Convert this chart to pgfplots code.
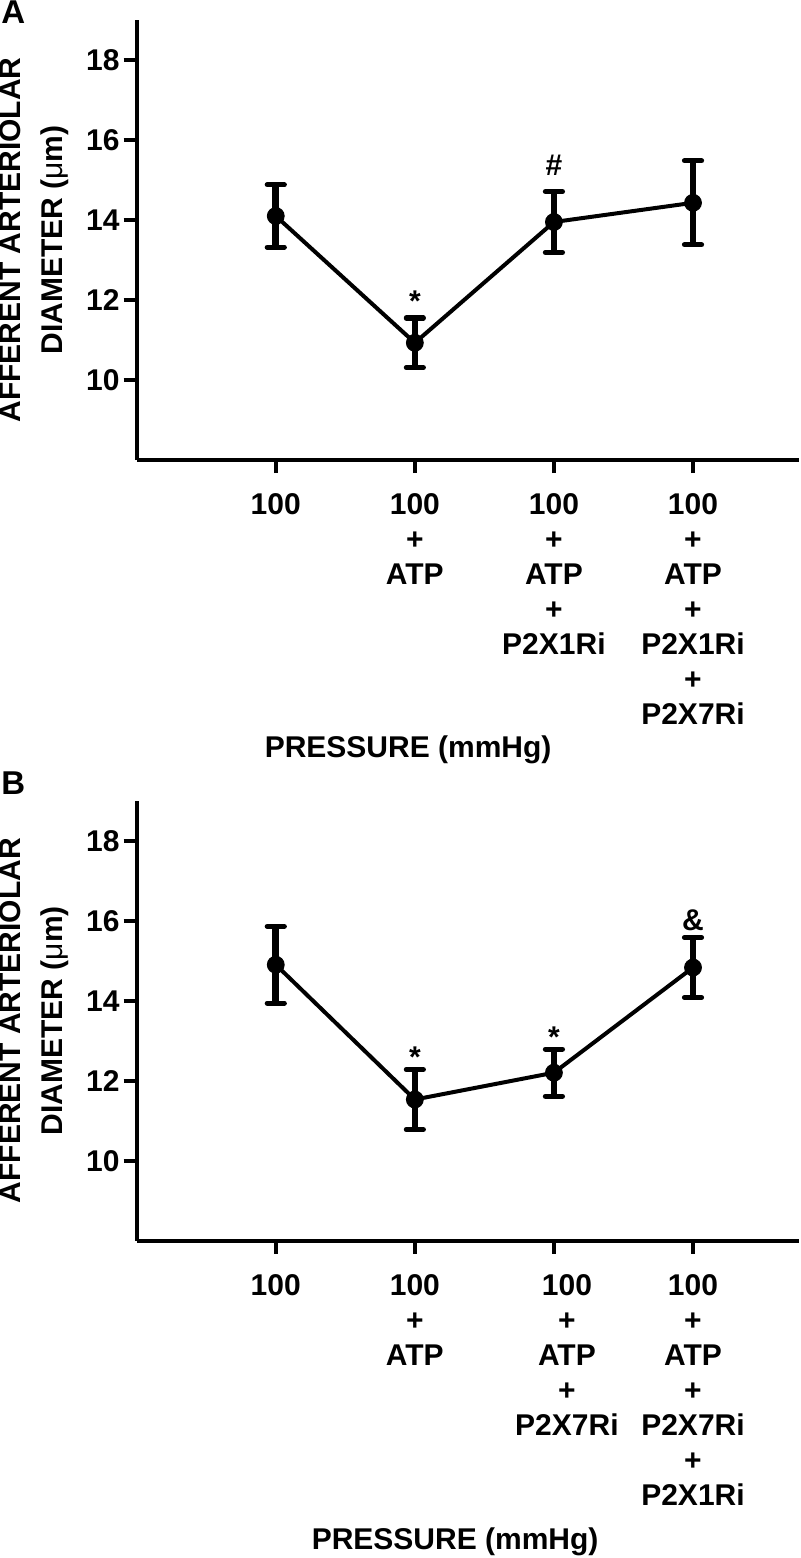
\documentclass[border=0pt]{standalone}
\usepackage{fontspec}
\setmainfont{Liberation Sans}
\usepackage{pgfplots}
\pgfplotsset{compat=1.18}
\usepackage{pgfplotstable}

\pgfplotstableread{
x y e
1 14.10 0.78
2 10.93 0.62
3 13.95 0.76
4 14.43 1.05
}\dataA
\pgfplotstableread{
x y e
1 14.90 0.96
2 11.53 0.75
3 12.20 0.59
4 14.83 0.75
}\dataB

\tikzset{ann/.style={anchor=base, inner sep=0pt, font=\fontsize{15}{17.5}\selectfont\bfseries}}

\pgfplotsset{
  panel/.style={
    scale only axis, width=331pt, height=220pt,
    xmin=0, xmax=4.76, ymin=8, ymax=19,
    axis lines=left, axis line style={line width=2pt, -},
    tick align=outside, tick style={line width=2pt, black}, major tick length=6.5pt,
    xtick={1,2,3,4}, ytick={10,12,14,16,18}, yticklabels={10,12,14,16,18},
    tick label style={font=\fontsize{15}{17.5}\selectfont\bfseries},
    xticklabel style={align=center, anchor=north, inner sep=0pt, yshift=-10pt},
    yticklabel style={anchor=east, inner sep=0pt, xshift=-1.85pt},
    ylabel={AFFERENT ARTERIOLAR\\DIAMETER ({\mdseries μ}m)},
    ylabel style={at={(axis description cs:-0.155,0.5)}, anchor=center, align=center, font=\fontsize{15}{20.75}\selectfont\bfseries},
    xlabel={PRESSURE (mmHg)},
    xlabel style={font=\fontsize{15}{17.5}\selectfont\bfseries, anchor=center},
    clip=false,
  },
  dataplot/.style={black, line width=2pt, mark=*, mark size=4.2pt, mark options={solid, line width=0.5pt},
    error bars/.cd, y dir=both, y explicit,
    error bar style={line width=3.3pt, black},
    error mark=|,
    error mark options={line width=2.6pt, mark size=4.25pt, black, line cap=round}},
}

\begin{document}
\begin{tikzpicture}
\useasboundingbox (0,0) rectangle (400pt,-779pt);
\node[anchor=base west, inner sep=0pt, font=\fontsize{16.5}{19}\selectfont\bfseries] at (0.5pt,-11.6pt) {A};
\node[anchor=base west, inner sep=0pt, font=\fontsize{16.5}{19}\selectfont\bfseries] at (0.5pt,-397pt) {B};

\begin{axis}[panel, at={(68.35pt,-230pt)}, anchor=south west,
  xticklabels={{100},{100\\+\\ATP},{100\\+\\ATP\\+\\P2X1Ri},{100\\+\\ATP\\+\\P2X1Ri\\+\\P2X7Ri}},
  xlabel style={at={(axis description cs:0.41,-0.659)}}]
\addplot[dataplot] table[x=x, y=y, y error=e] {\dataA};
\node[ann] at (axis cs:2,11.72) {*};
\node[ann] at (axis cs:3,15.12) {\#};
\end{axis}

\begin{axis}[panel, at={(68.35pt,-620.35pt)}, anchor=south west,
  xticklabels={{100},{100\\+\\ATP},{\hspace*{13pt}100\\\hspace*{13pt}+\\\hspace*{13pt}ATP\\\hspace*{13pt}+\\\hspace*{13pt}P2X7Ri},{100\\+\\ATP\\+\\P2X7Ri\\+\\P2X1Ri}},
  xlabel style={at={(axis description cs:0.481,-0.685)}}]
\addplot[dataplot] table[x=x, y=y, y error=e] {\dataB};
\node[ann] at (axis cs:2,12.33) {*};
\node[ann] at (axis cs:3,12.82) {*};
\node[ann] at (axis cs:4,15.75) {\&};
\end{axis}
\end{tikzpicture}
\end{document}
